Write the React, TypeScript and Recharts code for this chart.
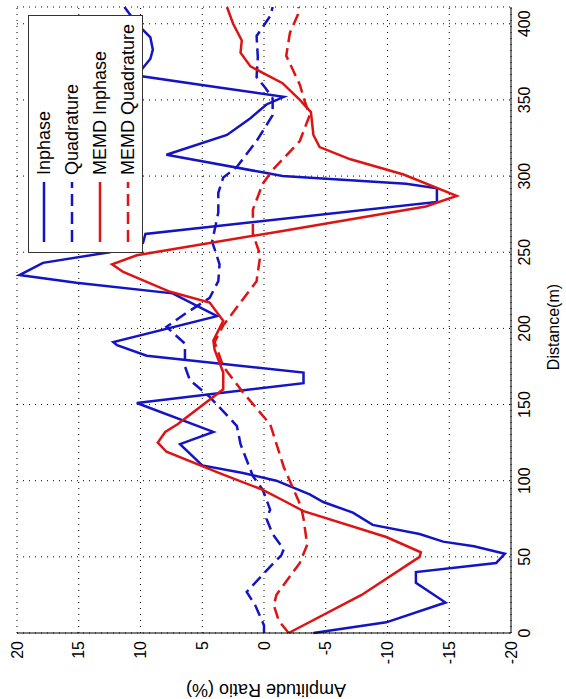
import { LineChart, Line, XAxis, YAxis, CartesianGrid, Legend } from 'recharts'

// The figure is a MATLAB plot turned 90 degrees: it is drawn upright and rotated with CSS.
const FONT = '"Liberation Sans", Arial, Helvetica, sans-serif'
const BLUE = '#1414c4'
const RED = '#dc1414'

const distanceTicks = [0, 50, 100, 150, 200, 250, 300, 350, 400]
const amplitudeTicks = [-20, -15, -10, -5, 0, 5, 10, 15, 20]

// [distance (m), amplitude ratio (%)]
const inphase: [number, number][] = [
  [0, -4.0], [7, -9.9], [20, -14.7], [33, -12.3], [40, -12.3], [46, -18.8], [52, -19.5],
  [57, -17.0], [60, -14.5], [65, -12.6], [71, -8.8], [79, -7.2], [86, -4.8], [91, -3.7],
  [100, -1.0], [105, 1.7], [110, 5.0], [124, 6.8], [132, 4.1], [151, 10.3], [164, -3.2],
  [171, -3.2], [182, 9.5], [189, 11.9], [191, 12.2], [208, 3.8], [223, 7.4], [230, 15.2],
  [235, 19.8], [243, 17.9], [250, 12.5], [256, 9.8], [262, 9.6], [283, -14.0], [292, -14.0],
  [295, -11.5], [300, -1.5], [302, -0.2], [314, 7.9], [327, 3.0], [338, 1.1], [347, -0.2],
  [352, -1.6], [358, 3.5], [366, 10.3], [377, 9.2], [383, 9.0], [391, 9.2], [400, 10.3],
  [411, 11.3],
]

const quadrature: [number, number][] = [
  [0, 0.0], [5, 0.0], [18, 0.7], [27, 1.4], [41, -0.2], [51, -1.4], [55, -1.6], [65, -0.7],
  [75, -0.2], [81, -0.5], [94, 0.1], [103, 0.9], [124, 1.9], [136, 2.2], [155, 4.4],
  [166, 6.0], [175, 6.4], [183, 6.4], [190, 6.4], [201, 7.9], [209, 6.5], [220, 4.4],
  [231, 3.7], [242, 3.6], [257, 4.2], [276, 3.7], [289, 3.7], [299, 3.3], [306, 2.2],
  [323, 0.6], [340, -0.7], [351, -0.7], [358, -0.1], [365, 0.6], [378, 0.5], [392, 0.6],
  [405, -0.5], [411, -0.7],
]

const memdInphase: [number, number][] = [
  [0, -2.0], [25, -7.9], [50, -12.6], [53, -12.7], [63, -9.9], [80, -3.2], [86, -1.8],
  [94, 0.1], [104, 3.3], [119, 7.9], [125, 8.6], [132, 8.0], [137, 7.0], [160, 3.3],
  [171, 3.3], [186, 4.0], [192, 4.1], [205, 3.3], [217, 4.4], [224, 7.6], [237, 11.4],
  [242, 12.3], [248, 10.3], [264, -1.5], [280, -13.1], [287, -15.6], [301, -11.3],
  [311, -7.0], [319, -4.5], [327, -4.0], [342, -3.8], [350, -2.9], [361, -1.5], [372, 1.1],
  [381, 1.9], [389, 1.8], [400, 2.5], [411, 3.0],
]

const memdQuadrature: [number, number][] = [
  [0, -2.0], [8, -1.2], [18, -0.8], [25, -1.0], [46, -2.9], [58, -3.5], [75, -3.2],
  [83, -3.0], [109, -1.6], [132, -0.7], [137, -0.5], [158, 1.7], [175, 3.3], [191, 4.0],
  [202, 3.3], [231, 0.6], [248, 0.3], [262, 0.9], [278, 0.9], [295, 0.1], [304, -0.7],
  [323, -2.9], [340, -3.7], [349, -3.3], [360, -2.9], [379, -1.8], [394, -2.1], [407, -2.8],
  [411, -2.8],
]

const lines = [
  { name: 'Inphase', points: inphase, color: BLUE, dash: undefined },
  { name: 'Quadrature', points: quadrature, color: BLUE, dash: '12 6' },
  { name: 'MEMD Inphase', points: memdInphase, color: RED, dash: undefined },
  { name: 'MEMD Quadrature', points: memdQuadrature, color: RED, dash: '12 6' },
]

const toRows = (pairs: [number, number][]) => pairs.map(([d, v]) => ({ d, v }))

function LegendBox() {
  return (
    <div
      style={{
        width: 238,
        height: 115,
        border: '1px solid #333',
        background: '#fff',
        boxSizing: 'border-box',
        paddingTop: 1,
      }}
    >
      {lines.map((s) => (
        <div key={s.name} style={{ display: 'flex', alignItems: 'center', height: 28 }}>
          <svg width={77} height={10} style={{ flex: 'none' }}>
            <line x1={10} x2={70} y1={5} y2={5} stroke={s.color} strokeWidth={2.5} strokeDasharray={s.dash} />
          </svg>
          <span style={{ fontSize: 18, fontFamily: FONT, color: '#000', lineHeight: '28px' }}>{s.name}</span>
        </div>
      ))}
    </div>
  )
}

export default function App() {
  const tick = { fontSize: 16, fill: '#000', fontFamily: FONT }
  return (
    <div style={{ position: 'absolute', left: 0, top: 0, width: 566, height: 699, overflow: 'hidden', background: '#fff' }}>
      <div
        style={{
          position: 'absolute',
          left: 0,
          top: 0,
          width: 699,
          height: 566,
          transformOrigin: '0 0',
          transform: 'translate(0px, 699px) rotate(-90deg)',
        }}
      >
        <LineChart width={699} height={566} margin={{ top: 17, right: 7, bottom: 15, left: 26 }}>
          <CartesianGrid stroke="#000" strokeDasharray="1 5" />
          <XAxis
            type="number"
            dataKey="d"
            domain={[0, 411]}
            ticks={distanceTicks}
            height={40}
            tickLine={false}
            axisLine={{ stroke: '#000' }}
            tick={tick}
          />
          <YAxis
            type="number"
            domain={[-20, 20]}
            ticks={amplitudeTicks}
            width={40}
            tickLine={false}
            axisLine={{ stroke: '#000' }}
            tick={tick}
          />
          <Legend
            layout="vertical"
            align="center"
            verticalAlign="middle"
            wrapperStyle={{ left: 446, top: 28, width: 238 }}
            content={() => <LegendBox />}
          />
          {lines.map((s) => (
            <Line
              key={s.name}
              name={s.name}
              data={toRows(s.points)}
              dataKey="v"
              type="linear"
              stroke={s.color}
              strokeWidth={2.5}
              strokeDasharray={s.dash}
              dot={false}
              activeDot={false}
              isAnimationActive={false}
            />
          ))}
          <text x={372} y={553} textAnchor="middle" dominantBaseline="central" fontSize={16} fontFamily={FONT} fill="#000">
            Distance(m)
          </text>
          <text
            transform="translate(9,266) rotate(-90)"
            textAnchor="middle"
            dominantBaseline="central"
            fontSize={18}
            fontFamily={FONT}
            fill="#000"
          >
            Amplitude Ratio (%)
          </text>
        </LineChart>
      </div>
    </div>
  )
}
